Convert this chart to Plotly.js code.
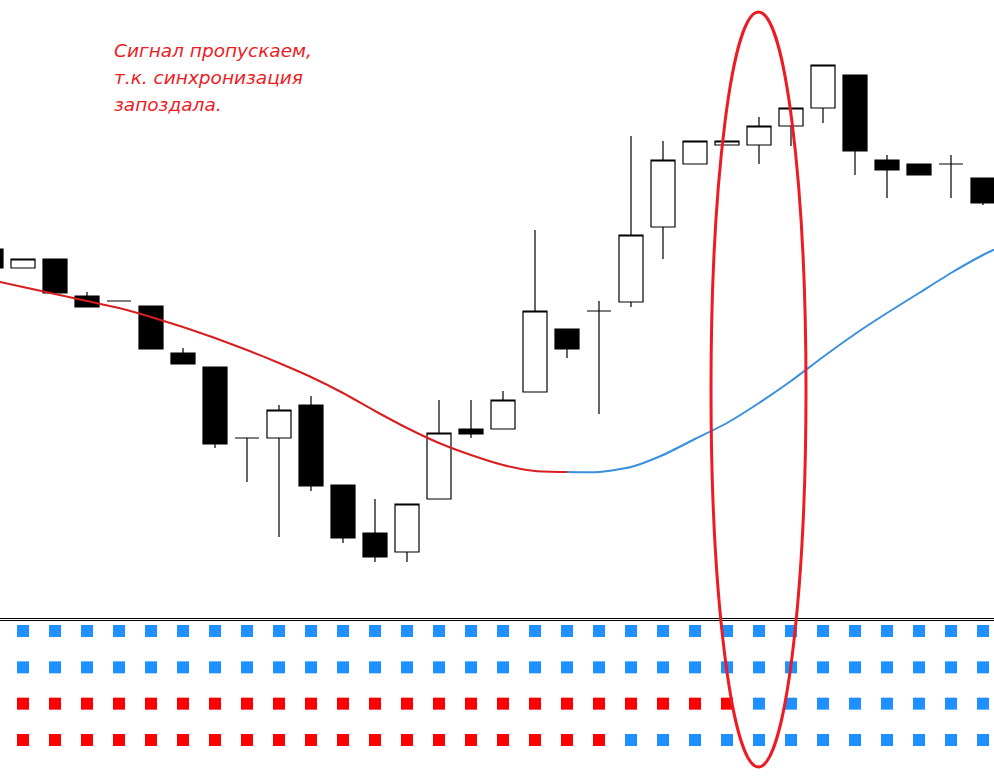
<!DOCTYPE html>
<html>
<head>
<meta charset="utf-8">
<script src="https://cdn.plot.ly/plotly-3.0.1.min.js"></script>
<style>html,body{margin:0;padding:0;background:#fff;}#chart{width:994px;height:776px;}</style>
</head>
<body>
<div id="chart"></div>
<script>
// ---- data (arbitrary price units) ----
const bars  = [0,1,2,3,4,5,6,7,8,9,10,11,12,13,14,15,16,17,18,19,20,21,22,23,24,25,26,27,28,29,30,31];
const open  = [451,432,441,404,399,394,347,333,262,262,295,215,167,148,201,271,271,308,371,389,398,473,536,555,555,574,592,625,540,536,536,522];
const high  = [453,441,441,408,399,394,352,333,262,295,304,215,201,196,300,300,309,470,371,399,564,559,559,559,583,592,635,625,545,536,545,522];
const low   = [430,432,406,393,399,351,336,252,218,163,209,157,138,138,201,262,271,308,342,286,393,441,536,555,536,554,577,525,502,525,502,495];
const close = [432,441,407,393,399,351,336,256,262,290,214,162,143,196,267,266,300,389,351,389,465,540,559,559,574,592,635,549,530,525,536,497];

// moving average: falling part (red) and rising part (blue)
const maDownX = [0,1,2,3,4,5,6,7,8,9,10,11,12,13,14,15,16,17,18];
const maDown  = [420,413,406,399,392,383,373,362,350,337,323,307,289,272,257,245,235,229,228];
const maUpX   = [18,19,20,21,22,23,24,25,26,27,28,29,30,31,32];
const maUp    = [228,228,233,245,261,277,297,319,343,366,387,407,427,445,460];

// indicator rows (1 = up/blue, -1 = down/red), one value per bar 1..31
const sigBars = [1,2,3,4,5,6,7,8,9,10,11,12,13,14,15,16,17,18,19,20,21,22,23,24,25,26,27,28,29,30,31];
const row1 = [1,1,1,1,1,1,1,1,1,1,1,1,1,1,1,1,1,1,1,1,1,1,1,1,1,1,1,1,1,1,1];
const row2 = [1,1,1,1,1,1,1,1,1,1,1,1,1,1,1,1,1,1,1,1,1,1,1,1,1,1,1,1,1,1,1];
const row3 = [-1,-1,-1,-1,-1,-1,-1,-1,-1,-1,-1,-1,-1,-1,-1,-1,-1,-1,-1,-1,-1,-1,-1,1,1,1,1,1,1,1,1];
const row4 = [-1,-1,-1,-1,-1,-1,-1,-1,-1,-1,-1,-1,-1,-1,-1,-1,-1,-1,-1,1,1,1,1,1,1,1,1,1,1,1,1];
const rowLevels = [4,3,2,1];

const noteLines = ["Сигнал пропускаем,", "т.к. синхронизация", "запоздала."];

// ---- build ----
const UP = "#1e90ff", DOWN = "#ff0000";
const traces = [];
traces.push({
  type: "candlestick", x: bars, open: open, high: high, low: low, close: close,
  xaxis: "x", yaxis: "y", hoverinfo: "skip", showlegend: false,
  increasing: {line: {color: "#000", width: 1.2}, fillcolor: "#ffffff"},
  decreasing: {line: {color: "#000", width: 1.2}, fillcolor: "#000000"},
  whiskerwidth: 0
});
traces.push({type: "scatter", mode: "lines", x: maDownX, y: maDown, xaxis: "x", yaxis: "y",
  line: {color: "#d81e1e", width: 2, shape: "spline", smoothing: 0.6}, hoverinfo: "skip", showlegend: false});
traces.push({type: "scatter", mode: "lines", x: maUpX, y: maUp, xaxis: "x", yaxis: "y",
  line: {color: "#3a8fdf", width: 2, shape: "spline", smoothing: 0.6}, hoverinfo: "skip", showlegend: false});

[row1, row2, row3, row4].forEach(function (row, r) {
  traces.push({
    type: "scatter", mode: "markers", x: sigBars, y: row.map(function () { return rowLevels[r]; }),
    xaxis: "x", yaxis: "y2", hoverinfo: "skip", showlegend: false,
    marker: {symbol: "square", size: 12, color: row.map(function (v) { return v > 0 ? UP : DOWN; }), line: {width: 0}}
  });
});

const H = 776;
const annotations = noteLines.map(function (t, i) {
  return {text: t, xref: "paper", yref: "paper", x: 112 / 994, y: 1 - (51 + 27 * i) / H,
    xanchor: "left", yanchor: "middle", showarrow: false,
    font: {family: "DejaVu Sans", size: 18.5, color: "#ed1c24", style: "italic"}};
});

const layout = {
  width: 994, height: 776,
  margin: {l: 0, r: 0, t: 0, b: 0},
  paper_bgcolor: "#ffffff", plot_bgcolor: "#ffffff",
  showlegend: false,
  boxgap: 0.25, boxgroupgap: 0,
  xaxis: {range: [0.28125, 31.34375], visible: false, fixedrange: true, rangeslider: {visible: false}},
  yaxis: {domain: [1 - 618 / H, 1], range: [82, 700], visible: false, fixedrange: true},
  yaxis2: {domain: [0, 1 - 620 / H], range: [0.009, 4.303], visible: false, fixedrange: true},
  shapes: [
    {type: "line", xref: "paper", yref: "paper", x0: 0, x1: 1, y0: 1 - 618.5 / H, y1: 1 - 618.5 / H, line: {color: "#000", width: 1}},
    {type: "line", xref: "paper", yref: "paper", x0: 0, x1: 1, y0: 1 - 620.5 / H, y1: 1 - 620.5 / H, line: {color: "#000", width: 1}},
    {type: "circle", xref: "x", yref: "paper", x0: (711 + 9) / 32, x1: (806 + 9) / 32, y0: 1 - 767 / H, y1: 1 - 12 / H,
      line: {color: "#ed1c24", width: 3}, layer: "above"}
  ],
  annotations: annotations
};

Plotly.newPlot("chart", traces, layout, {staticPlot: true, displayModeBar: false});
</script>
</body>
</html>
